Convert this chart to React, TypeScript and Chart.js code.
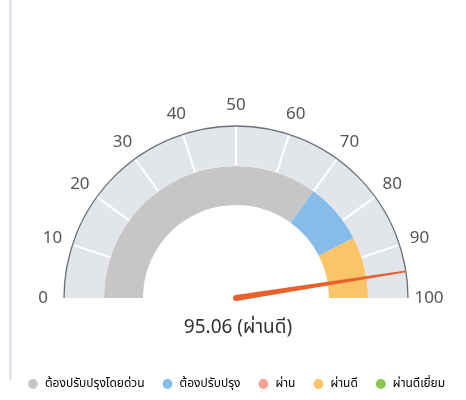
import React, { useEffect, useRef } from 'react';
import { Chart, registerables } from 'chart.js';

Chart.register(...registerables);

const categories = ['ต้องปรับปรุงโดยด่วน', 'ต้องปรับปรุง', 'ผ่าน', 'ผ่านดี', 'ผ่านดีเยี่ยม'];
const bandValues = [70, 15, 0, 15, 0];
const bandColors = ['#c6c6c6', '#86bcea', '#f5a28e', '#fcc468', '#8cc64e'];
const scaleTicks = [0, 10, 20, 30, 40, 50, 60, 70, 80, 90, 100];
const scaleSegments = [10, 10, 10, 10, 10, 10, 10, 10, 10, 10];
const score = 95.06;
const scoreLabel = 'ผ่านดี';
const scaleMax = 100;

const FONT = "'Noto Sans', 'Noto Sans Thai', sans-serif";

const gaugePlugin = {
  id: 'gaugeDecor',
  beforeDraw(chart: any) {
    const { ctx } = chart;
    ctx.save();
    ctx.strokeStyle = '#dcdce9';
    ctx.lineWidth = 2;
    ctx.beginPath();
    ctx.moveTo(10.5, 0);
    ctx.lineTo(10.5, 380);
    ctx.stroke();
    ctx.restore();
  },
  afterDatasetsDraw(chart: any) {
    const { ctx } = chart;
    const outerMeta = chart.getDatasetMeta(0);
    const arc0 = outerMeta.data[0];
    if (!arc0) return;
    const cx = arc0.x;
    const cy = arc0.y;
    const rOut = arc0.outerRadius;
    const rIn = arc0.innerRadius;
    const toAngle = (v: number) => Math.PI + (v / scaleMax) * Math.PI;
    ctx.save();
    // separators
    ctx.strokeStyle = '#ffffff';
    ctx.lineWidth = 2;
    scaleTicks.slice(1, -1).forEach((t) => {
      const a = toAngle(t);
      ctx.beginPath();
      ctx.moveTo(cx + Math.cos(a) * rIn, cy + Math.sin(a) * rIn);
      ctx.lineTo(cx + Math.cos(a) * rOut, cy + Math.sin(a) * rOut);
      ctx.stroke();
    });
    // outer line
    ctx.strokeStyle = '#6b6f78';
    ctx.lineWidth = 1.3;
    ctx.beginPath();
    ctx.arc(cx, cy, rOut, Math.PI, 2 * Math.PI);
    ctx.stroke();
    // tick labels
    ctx.fillStyle = '#555555';
    ctx.font = `17px ${FONT}`;
    ctx.textAlign = 'center';
    ctx.textBaseline = 'middle';
    const rLab = rOut + 21;
    scaleTicks.forEach((t) => {
      const a = toAngle(t);
      const x = cx + Math.cos(a) * rLab;
      const y = cy + Math.sin(a) * rLab;
      ctx.fillText(String(t), x, y);
    });
    // needle
    const a = toAngle(score);
    const len = rOut;
    const hw = 3;
    const tw = 0.9;
    const tx = cx + Math.cos(a) * len;
    const ty = cy + Math.sin(a) * len;
    const px = -Math.sin(a);
    const py = Math.cos(a);
    ctx.fillStyle = '#e8602c';
    ctx.beginPath();
    ctx.moveTo(cx + px * hw, cy + py * hw);
    ctx.lineTo(tx + px * tw, ty + py * tw);
    ctx.lineTo(tx - px * tw, ty - py * tw);
    ctx.lineTo(cx - px * hw, cy - py * hw);
    ctx.closePath();
    ctx.fill();
    ctx.beginPath();
    ctx.arc(cx, cy, hw, 0, Math.PI * 2);
    ctx.fill();
    // score text
    ctx.fillStyle = '#333333';
    ctx.font = `19px ${FONT}`;
    ctx.textAlign = 'center';
    ctx.textBaseline = 'middle';
    ctx.fillText(`${score.toFixed(2)} (${scoreLabel})`, cx + 2, cy + 30);
    ctx.restore();
  },
};

export default function App() {
  const ref = useRef<HTMLCanvasElement | null>(null);
  useEffect(() => {
    if (!ref.current) return;
    const chart = new Chart(ref.current, {
      type: 'doughnut',
      data: {
        labels: categories,
        datasets: [
          {
            data: scaleSegments,
            backgroundColor: '#e2e6eb',
            borderWidth: 0,
            weight: 40,
          },
          {
            data: bandValues,
            backgroundColor: bandColors,
            borderWidth: 0,
            weight: 39,
          },
        ],
      },
      options: {
        animation: false,
        responsive: true,
        maintainAspectRatio: false,
        rotation: -90,
        circumference: 180,
        radius: 172,
        cutout: '54.07%',
        layout: { padding: { left: 6, right: 0, top: 63, bottom: 0 } },
        plugins: {
          tooltip: { enabled: false },
          legend: {
            position: 'bottom',
            labels: {
              usePointStyle: true,
              pointStyle: 'circle',
              boxWidth: 12,
              boxHeight: 7,
              padding: 17,
              color: '#6a6a6a',
              font: { size: 12, family: FONT },
              generateLabels: () =>
                categories.map((c, i) => ({
                  text: c,
                  fillStyle: bandColors[i],
                  strokeStyle: bandColors[i],
                  lineWidth: 0,
                  pointStyle: 'circle',
                  hidden: false,
                  index: i,
                  datasetIndex: 1,
                })),
            },
          },
        },
      } as any,
      plugins: [gaugePlugin],
    });
    return () => chart.destroy();
  }, []);
  return (
    <div style={{ position: 'fixed', left: 0, top: 0, width: 466, height: 400, background: '#ffffff' }}>
      <canvas ref={ref} />
    </div>
  );
}
